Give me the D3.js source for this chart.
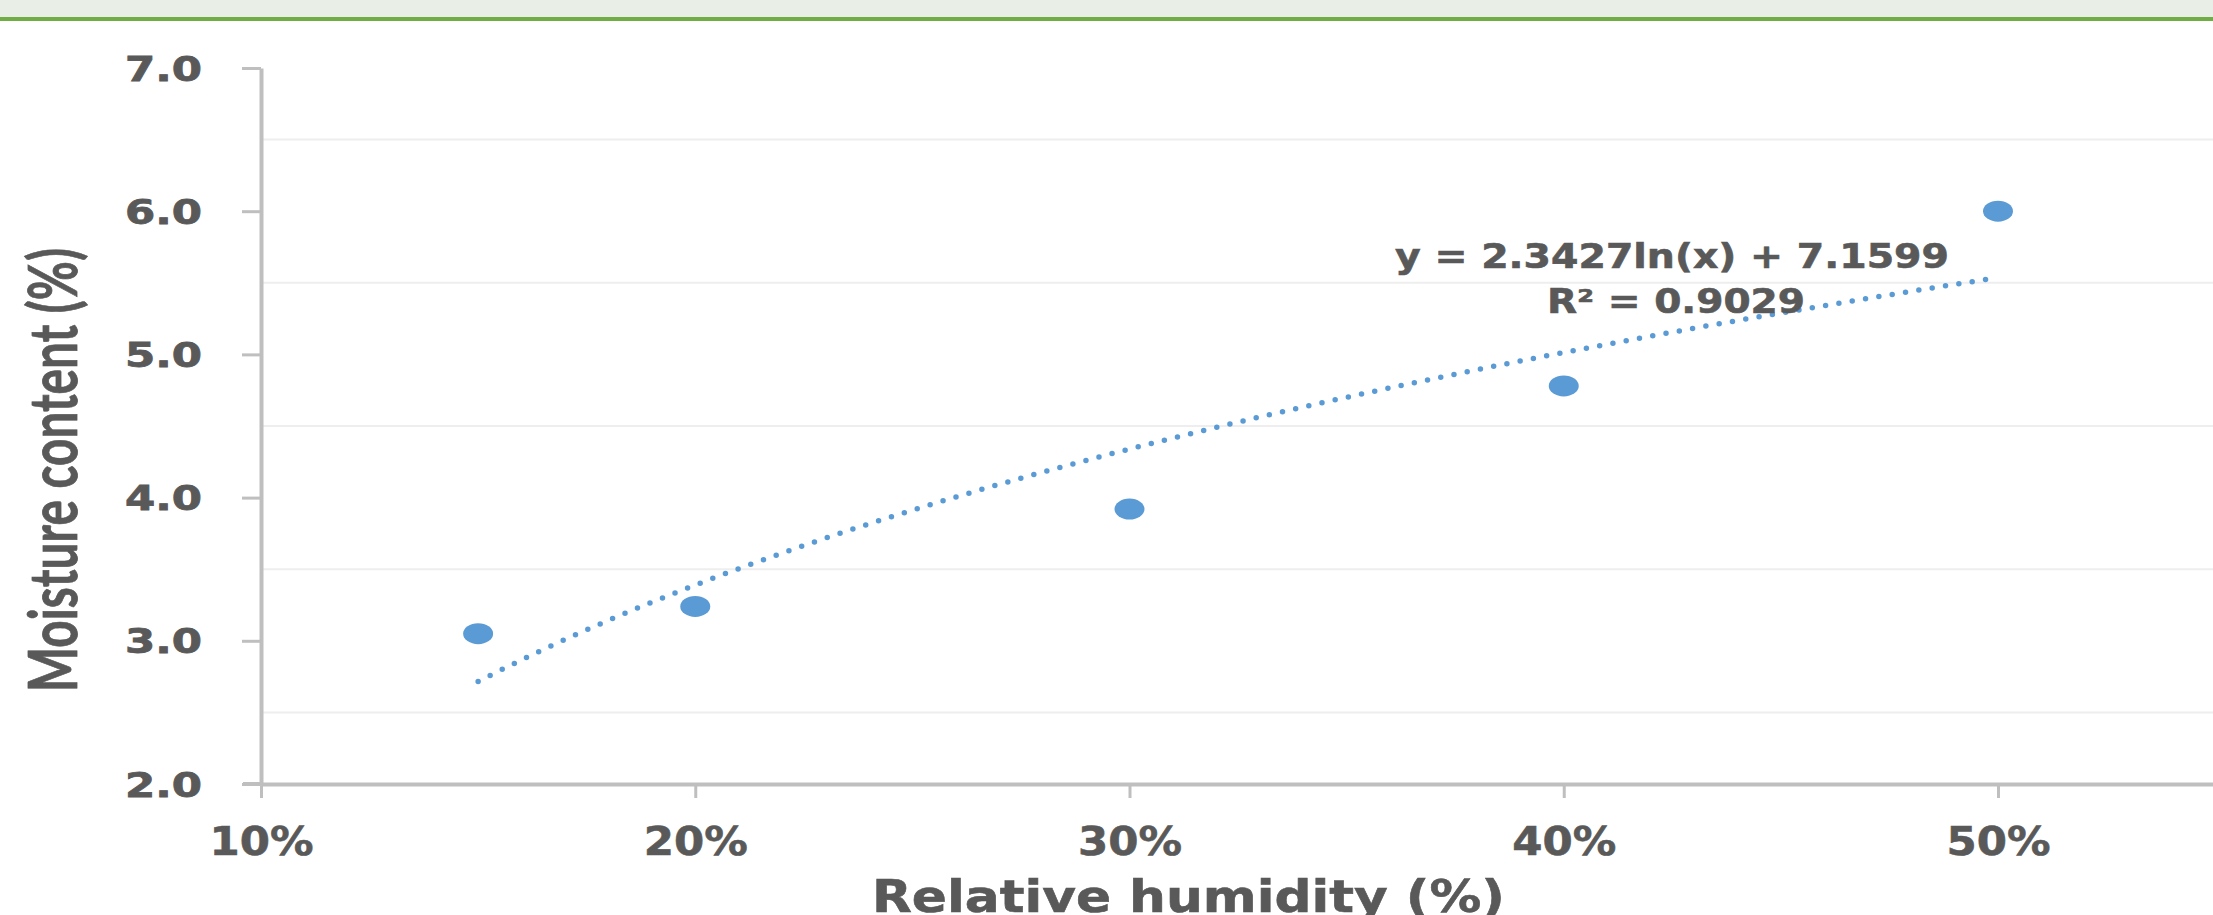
<!DOCTYPE html>
<html>
<head>
<meta charset="utf-8">
<script src="https://cdn.jsdelivr.net/npm/d3@7"></script>
<style>
  html, body { margin: 0; padding: 0; background: #ffffff; overflow: hidden; }
  svg { display: block; }
</style>
</head>
<body>
<div id="chart"></div>
<script>
// ---- Data ----
const humidity = [0.15, 0.20, 0.30, 0.40, 0.50];
const moisture = [3.05, 3.24, 3.92, 4.78, 6.00];
const xTickValues = [0.1, 0.2, 0.3, 0.4, 0.5];
const xTickLabels = ["10%", "20%", "30%", "40%", "50%"];
const yTickValues = [2, 3, 4, 5, 6, 7];
const yTickLabels = ["2.0", "3.0", "4.0", "5.0", "6.0", "7.0"];
const gridValues = [2.5, 3.5, 4.5, 5.5, 6.5];
const trendCoef = [2.3427, 7.1599];      // y = a ln(x) + b
const trendRange = [0.15, 0.50];
const equationLines = ["y = 2.3427ln(x) + 7.1599", "R\u00B2 = 0.9029"];
const xTitle = "Relative humidity (%)";
const yTitle = "Moisture content (%)";

// ---- Layout ----
const W = 2213, H = 915;
const textColor = "#595959";
const axisColor = "#bfbfbf";
const markColor = "#5b9bd5";

const svg = d3.select("#chart").append("svg").attr("width", W).attr("height", H);

// header band
svg.append("rect").attr("x", 0).attr("y", 0).attr("width", W).attr("height", 17).attr("fill", "#e9efe7");
svg.append("rect").attr("x", 0).attr("y", 17).attr("width", W).attr("height", 4).attr("fill", "#70ad47");

const x = d3.scaleLinear().domain([0.1, 0.55]).range([261, 261 + 4342.5 * 0.45]);
const y = d3.scaleLinear().domain([2, 7]).range([784, 68]);

// gridlines
svg.append("g").selectAll("line").data(gridValues).join("line")
  .attr("x1", 263).attr("x2", W)
  .attr("y1", d => y(d)).attr("y2", d => y(d))
  .attr("stroke", "#eeeeee").attr("stroke-width", 2);

// y axis
const yAxis = d3.axisLeft(y).tickValues(yTickValues)
  .tickFormat((d, i) => yTickLabels[i]).tickSize(19).tickSizeOuter(0);
const gy = svg.append("g").attr("transform", "translate(261,0)").call(yAxis);
gy.select(".domain").attr("stroke", axisColor).attr("stroke-width", 4);
gy.selectAll(".tick line").attr("stroke", axisColor).attr("stroke-width", 3);
gy.selectAll(".tick text")
  .attr("x", -59).attr("dy", null).attr("y", 12)
  .attr("fill", textColor).attr("stroke", textColor).attr("stroke-width", 0.8)
  .style("font-family", "'DejaVu Sans', sans-serif").style("font-weight", "bold").style("font-size", "33px")
  .attr("textLength", 77).attr("lengthAdjust", "spacingAndGlyphs");

// x axis
const xAxis = d3.axisBottom(x).tickValues(xTickValues)
  .tickFormat((d, i) => xTickLabels[i]).tickSize(14).tickSizeOuter(0);
const gx = svg.append("g").attr("transform", "translate(0,784)").call(xAxis);
gx.select(".domain").attr("stroke", axisColor).attr("stroke-width", 4);
gx.selectAll(".tick line").attr("stroke", axisColor).attr("stroke-width", 3);
gx.selectAll(".tick text")
  .attr("y", 71).attr("dy", null)
  .attr("fill", textColor).attr("stroke", textColor).attr("stroke-width", 0.6)
  .style("font-family", "'DejaVu Sans', sans-serif").style("font-weight", "bold").style("font-size", "39px")
  .attr("textLength", 104).attr("lengthAdjust", "spacingAndGlyphs");
// left extension of the x axis line under the 2.0 tick
svg.append("line").attr("x1", 243).attr("x2", 261).attr("y1", 784).attr("y2", 784)
  .attr("stroke", axisColor).attr("stroke-width", 4);

// trendline (logarithmic fit from the equation's coefficients)
const trendX = d3.range(0, 201).map(i => trendRange[0] + (trendRange[1] - trendRange[0]) * i / 200);
const line = d3.line().x(d => x(d)).y(d => y(trendCoef[0] * Math.log(d) + trendCoef[1]));
svg.append("path").datum(trendX).attr("d", line)
  .attr("fill", "none").attr("stroke", markColor).attr("stroke-width", 5.5)
  .attr("stroke-linecap", "round").attr("stroke-dasharray", "0 13.5");

// markers
svg.append("g").selectAll("ellipse").data(humidity).join("ellipse")
  .attr("cx", d => x(d)).attr("cy", (d, i) => y(moisture[i]))
  .attr("rx", 15).attr("ry", 10.5).attr("fill", markColor);

// equation label
const eq = svg.append("g")
  .style("font-family", "'DejaVu Sans', sans-serif").style("font-weight", "bold").style("font-size", "33px")
  .attr("fill", textColor).attr("stroke", textColor).attr("stroke-width", 0.6);
eq.append("text").attr("x", 1395).attr("y", 268).text(equationLines[0])
  .attr("textLength", 554).attr("lengthAdjust", "spacingAndGlyphs");
eq.append("text").attr("x", 1547).attr("y", 313).text(equationLines[1])
  .attr("textLength", 258).attr("lengthAdjust", "spacingAndGlyphs");

// axis titles
svg.append("text").attr("x", 872).attr("y", 912).text(xTitle)
  .attr("fill", textColor).attr("stroke", textColor).attr("stroke-width", 0.6)
  .style("font-family", "'DejaVu Sans', sans-serif").style("font-weight", "bold").style("font-size", "45px")
  .attr("textLength", 633).attr("lengthAdjust", "spacingAndGlyphs");

svg.append("text")
  .attr("transform", "translate(77,470) rotate(-90)")
  .attr("text-anchor", "middle")
  .text(yTitle)
  .attr("fill", textColor).attr("stroke", textColor).attr("stroke-width", 0.8)
  .style("font-family", "Lato, sans-serif").style("font-weight", "bold").style("font-size", "67px")
  .attr("textLength", 444).attr("lengthAdjust", "spacingAndGlyphs");
</script>
</body>
</html>
